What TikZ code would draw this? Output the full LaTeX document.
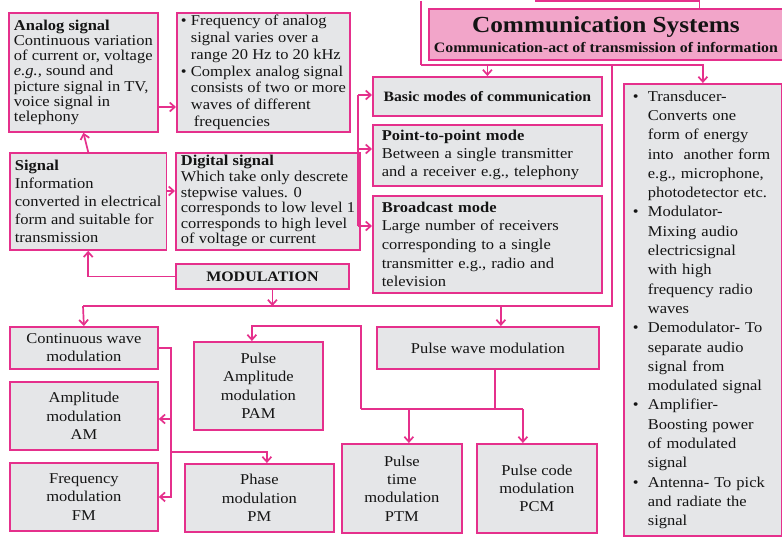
\documentclass[tikz,border=0pt]{standalone}
\usepackage{fontspec}
\setmainfont{Liberation Serif}[FakeStretch=1.1]
\usetikzlibrary{arrows.meta,positioning,calc}
\definecolor{magline}{HTML}{E5308C}
\definecolor{boxgray}{HTML}{E5E6E8}
\definecolor{titlepink}{HTML}{F2A5C9}
\definecolor{ink}{HTML}{141414}
\tikzset{
  greybox/.style={draw=magline,fill=boxgray,line width=1.8pt,anchor=north west,
                  inner xsep=5pt,inner ysep=0pt,text=ink},
  leftbox/.style={greybox,align=left},
  midbox/.style={greybox,align=center,font=\fontsize{15}{18.3}\selectfont},
  titlebox/.style={greybox,fill=titlepink,align=center},
  link/.style={draw=magline,line width=1.7pt},
  flowarr/.style={link,-{Straight Barb[length=5pt,width=9pt]}}
}
\newcommand{\bul}[1]{\makebox[#1][l]{\textbullet}}

\begin{document}
\begin{tikzpicture}[x=1pt,y=-1pt]
  \useasboundingbox[fill=white] (0,0) rectangle (782,539);

  % title and the right-hand list
  \node[titlebox,minimum width=353pt,minimum height=51pt] (title) at (428,8)
    {{\fontsize{23}{24}\selectfont\bfseries Communication Systems}\\[4pt]
     {\fontsize{14.4}{18}\selectfont\bfseries Communication-act of transmission of information}};
  \node[leftbox,minimum width=158pt,minimum height=452pt,text width=140pt,
        inner xsep=9pt,font=\fontsize{15}{19.3}\selectfont] (parts) at (623,83)
    {\bul{15pt}Transducer-\\\hspace*{15pt}Converts one\\\hspace*{15pt}form of energy\\
     \hspace*{15pt}into\ \ another form\\\hspace*{15pt}e.g., microphone,\\
     \hspace*{15pt}photodetector etc.\\
     \bul{15pt}Modulator-\\\hspace*{15pt}Mixing audio\\\hspace*{15pt}electricsignal\\
     \hspace*{15pt}with high\\\hspace*{15pt}frequency radio\\\hspace*{15pt}waves\\
     \bul{15pt}Demodulator- To\\\hspace*{15pt}separate audio\\\hspace*{15pt}signal from\\
     \hspace*{15pt}modulated signal\\
     \bul{15pt}Amplifier-\\\hspace*{15pt}Boosting power\\\hspace*{15pt}of modulated\\
     \hspace*{15pt}signal\\
     \bul{15pt}Antenna- To pick\\\hspace*{15pt}and radiate the\\\hspace*{15pt}signal};

  % signals
  \node[leftbox,minimum width=149pt,minimum height=119pt,
        font=\fontsize{15}{15.2}\selectfont] (analog) at (8,12)
    {\textbf{Analog signal}\\Continuous variation\\of current or, voltage\\
     \textit{e.g.,} sound and\\picture signal in TV,\\voice signal in\\telephony};
  \node[leftbox,minimum width=173pt,minimum height=119pt,inner xsep=4pt,
        font=\fontsize{15}{16.8}\selectfont] (freq) at (176,12)
    {\bul{10pt}Frequency of analog\\\hspace*{10pt}signal varies over a\\
     \hspace*{10pt}range 20 Hz to 20 kHz\\
     \bul{10pt}Complex analog signal\\\hspace*{10pt}consists of two or more\\
     \hspace*{10pt}waves of different\\\hspace*{13pt}frequencies};
  \node[leftbox,minimum width=148pt,minimum height=97pt,
        font=\fontsize{15}{18}\selectfont] (signal) at (9,152)
    {\textbf{Signal}\\Information\\converted in electrical\\form and suitable for\\transmission};
  \node[leftbox,minimum width=173pt,minimum height=97pt,
        font=\fontsize{15}{15.6}\selectfont] (digital) at (175,152)
    {\textbf{Digital signal}\\Which take only descrete\\stepwise values. 0\\
     corresponds to low level 1\\corresponds to high level\\of voltage or current};
  \node[midbox,minimum width=173pt,minimum height=25pt,
        font=\fontsize{14.5}{16}\selectfont\bfseries] (modul) at (175,263) {MODULATION};

  % modes
  \node[midbox,minimum width=229pt,minimum height=39pt,
        font=\fontsize{14.3}{16}\selectfont\bfseries] (basic) at (372,76)
    {Basic modes of communication};
  \node[leftbox,minimum width=229pt,minimum height=61pt,text width=211pt,inner xsep=9pt,
        font=\fontsize{15}{18}\selectfont] (point) at (372,124)
    {\textbf{Point-to-point mode}\\Between a single transmitter\\and a receiver e.g., telephony};
  \node[leftbox,minimum width=229pt,minimum height=97pt,text width=211pt,inner xsep=9pt,
        font=\fontsize{15}{18.7}\selectfont] (broad) at (372,195)
    {\textbf{Broadcast mode}\\Large number of receivers\\corresponding to a single\\
     transmitter e.g., radio and\\television};

  % kinds of modulation
  \node[midbox,minimum width=148pt,minimum height=42pt] (cw) at (9,326)
    {Continuous wave\\modulation};
  \node[midbox,minimum width=148pt,minimum height=68pt] (am) at (9,381)
    {Amplitude\\modulation\\AM};
  \node[midbox,minimum width=148pt,minimum height=68pt] (fm) at (9,462)
    {Frequency\\modulation\\FM};
  \node[midbox,minimum width=129pt,minimum height=88pt] (pam) at (193,341)
    {Pulse\\Amplitude\\modulation\\PAM};
  \node[midbox,minimum width=149pt,minimum height=68pt] (pm) at (184,463)
    {Phase\\modulation\\PM};
  \node[midbox,minimum width=222pt,minimum height=42pt] (pulse) at (376,326)
    {Pulse wave modulation};
  \node[midbox,minimum width=120pt,minimum height=89pt] (ptm) at (341,443)
    {Pulse\\time\\modulation\\PTM};
  \node[midbox,minimum width=120pt,minimum height=89pt] (pcm) at (476,443)
    {Pulse code\\modulation\\PCM};

  % connectors, upper left
  \draw[flowarr] (signal.north) -- (analog.south);
  \draw[flowarr] (analog.east |- 0,107) -- (freq.west |- 0,107);
  \draw[flowarr] (signal.east |- 0,191) -- (digital.west |- 0,191);
  \draw[flowarr] (modul.west) -| (signal.south);

  % lines from above and the frame
  \coordinate (feed) at (421,0.9);
  \coordinate (hub) at (421,65);
  \coordinate (frame) at (612,65);
  \coordinate (busL) at (83,306);
  \coordinate (topL) at (535,0.9);
  \coordinate (tin) at ([xshift=93.5pt]title.north);
  \draw[link] (topL) -| (tin);
  \draw[link] (feed) -- (hub);
  \draw[flowarr] (hub) -| (parts.north);
  \draw[flowarr] (basic.north |- hub) -- (basic.north);
  \draw[link] (frame) |- (busL);
  \draw[flowarr] (busL) -- (cw.north);
  \coordinate (mout) at ([xshift=10pt]modul.south);
  \draw[flowarr] (mout) -- (mout |- busL);
  \coordinate (pwin) at ([xshift=13pt]pulse.north);
  \draw[flowarr] (pwin |- busL) -- (pwin);

  % modes bracket
  \coordinate (brkT) at (358,95);
  \coordinate (brkB) at (358,226);
  \draw[link] (brkT) -- (brkB);
  \draw[flowarr] (brkT) -- (basic.west |- brkT);
  \draw[flowarr] (brkT |- 0,149) -- (point.west |- 0,149);
  \draw[flowarr] (brkB) -- (broad.west |- brkB);

  % continuous wave branches
  \coordinate (cwj) at (171,348);
  \draw[flowarr] (cw.east) -| (cwj |- fm.east) -- (fm.east);
  \draw[flowarr] (cwj |- 0,419) -- (am.east |- 0,419);
  \coordinate (pmin) at ([xshift=7.5pt]pm.north);
  \draw[flowarr] (cwj |- 0,452) -| (pmin);

  % pulse branches
  \coordinate (pj) at (361,409);
  \coordinate (pamin) at ([xshift=-6.5pt]pam.north);
  \coordinate (ptmin) at ([xshift=7pt]ptm.north);
  \coordinate (pcmin) at ([xshift=-14pt]pcm.north);
  \coordinate (pwout) at ([xshift=7pt]pulse.south);
  \draw[flowarr] (pj) |- (pamin |- 0,326) -- (pamin);
  \draw[link] (pj) -- (pcmin |- pj);
  \draw[link] (pwout) -- (pwout |- pj);
  \draw[flowarr] (ptmin |- pj) -- (ptmin);
  \draw[flowarr] (pcmin |- pj) -- (pcmin);
\end{tikzpicture}
\end{document}
